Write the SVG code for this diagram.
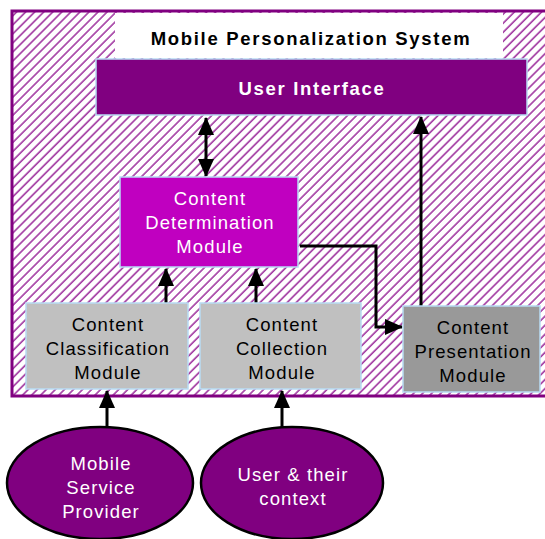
<svg xmlns="http://www.w3.org/2000/svg" width="545" height="539" viewBox="0 0 545 539">
<style>
.t{font-family:"Liberation Sans",Arial,sans-serif;font-size:18.5px;letter-spacing:1.1px;text-anchor:middle}
.w{fill:#ffffff}
.k{fill:#000000}
.b{font-weight:bold;letter-spacing:1.7px}
.box{stroke:#b8dcf4;stroke-width:1.5}
.c{stroke:#000;stroke-width:3;fill:none}
</style>
<defs>
<pattern id="hatch" width="6.4" height="10" patternUnits="userSpaceOnUse" patternTransform="rotate(45)">
<line x1="1" y1="0" x2="1" y2="10" stroke="#9a2a9a" stroke-width="1.5"/>
</pattern>
<marker id="ah" markerUnits="userSpaceOnUse" markerWidth="18" markerHeight="16" refX="17" refY="8" orient="auto-start-reverse" viewBox="0 0 18 16">
<path d="M0,0 L18,8 L0,16 Z" fill="#000"/>
</marker>
</defs>
<rect width="545" height="539" fill="#fff"/>
<g id="system">
<rect x="12" y="11" width="560" height="385" fill="url(#hatch)" stroke="#800080" stroke-width="3"/>
<rect x="115" y="13" width="388" height="45" fill="#fff"/>
<text class="t k b" x="311" y="45">Mobile Personalization System</text>
</g>
<g id="connectors">
<line class="c" x1="206" y1="118" x2="206" y2="176" marker-start="url(#ah)" marker-end="url(#ah)"/>
<line class="c" x1="166" y1="303" x2="166" y2="269" marker-end="url(#ah)"/>
<line class="c" x1="256" y1="303" x2="256" y2="269" marker-end="url(#ah)"/>
<polyline class="c" points="300,246 376,246 376,327 402,327" marker-end="url(#ah)"/>
<line class="c" x1="421" y1="306" x2="421" y2="117" marker-end="url(#ah)"/>
<line class="c" x1="107" y1="427" x2="107" y2="391" marker-end="url(#ah)"/>
<line class="c" x1="282" y1="427" x2="282" y2="391" marker-end="url(#ah)"/>
</g>
<g id="ui">
<rect class="box" x="96" y="59" width="431" height="56" fill="#800080"/>
<text class="t w b" x="312" y="95">User Interface</text>
</g>
<g id="cdm">
<rect class="box" x="120" y="177" width="178" height="90" fill="#c000c0"/>
<text class="t w" x="210" y="205">Content</text>
<text class="t w" x="210" y="229">Determination</text>
<text class="t w" x="210" y="253">Module</text>
</g>
<g id="classification">
<rect class="box" x="26" y="303" width="162" height="86" fill="#c0c0c0"/>
<text class="t k" x="108" y="331">Content</text>
<text class="t k" x="108" y="355">Classification</text>
<text class="t k" x="108" y="379">Module</text>
</g>
<g id="collection">
<rect class="box" x="200" y="303" width="161" height="86" fill="#c0c0c0"/>
<text class="t k" x="282" y="331">Content</text>
<text class="t k" x="282" y="355">Collection</text>
<text class="t k" x="282" y="379">Module</text>
</g>
<g id="presentation">
<rect class="box" x="403" y="306" width="137" height="86" fill="#999999"/>
<text class="t k" x="473" y="334">Content</text>
<text class="t k" x="473" y="358">Presentation</text>
<text class="t k" x="473" y="382">Module</text>
</g>
<g id="provider">
<ellipse cx="100" cy="483" rx="93" ry="56" fill="#800080" stroke="#000" stroke-width="2.5"/>
<text class="t w" x="101" y="470">Mobile</text>
<text class="t w" x="101" y="494">Service</text>
<text class="t w" x="101" y="518">Provider</text>
</g>
<g id="user">
<ellipse cx="292" cy="483" rx="91" ry="56" fill="#800080" stroke="#000" stroke-width="2.5"/>
<text class="t w" x="293" y="481">User &amp; their</text>
<text class="t w" x="293" y="505">context</text>
</g>
</svg>
